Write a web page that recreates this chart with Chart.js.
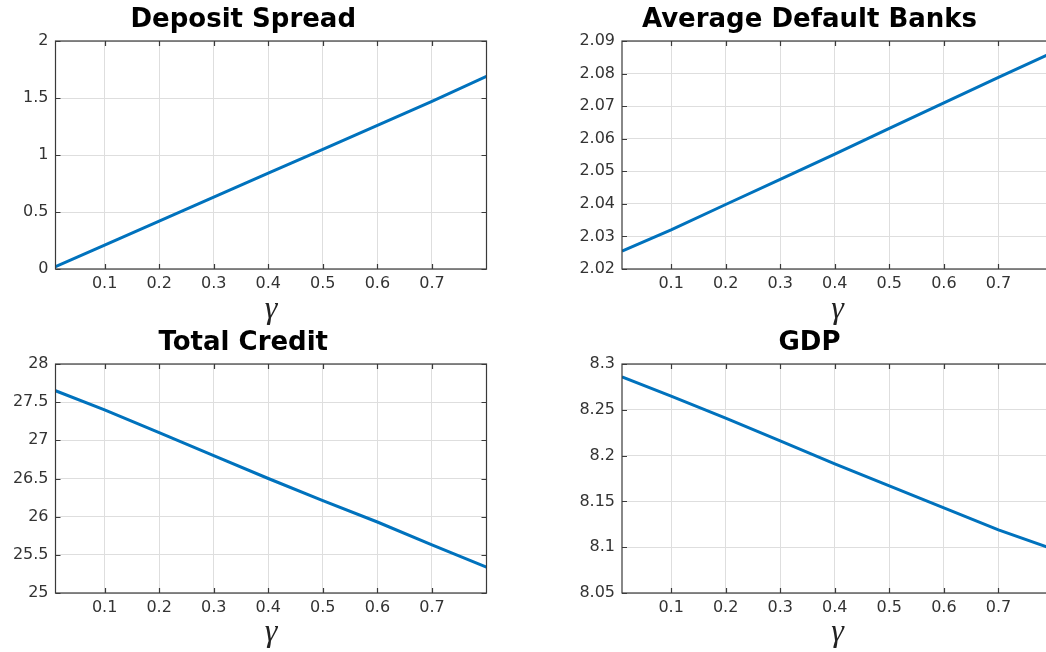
<!DOCTYPE html>
<html lang="en">
<head>
  <meta charset="UTF-8">
  <title>Deposit Spread, Default Banks, Credit and GDP vs gamma</title>
  <script src="https://cdn.jsdelivr.net/npm/chart.js"></script>
  <style>
    html, body {
      margin: 0;
      padding: 0;
      background: #fff;
      width: 1046px;
      height: 652px;
      overflow: hidden;
    }
    canvas {
      position: absolute;
    }
  </style>
</head>
<body>
  <canvas id="spreadChart" width="534" height="326" style="left:0px;top:0px"></canvas>
  <canvas id="banksChart" width="534" height="326" style="left:566px;top:0px"></canvas>
  <canvas id="creditChart" width="534" height="326" style="left:0px;top:323px"></canvas>
  <canvas id="gdpChart" width="534" height="326" style="left:566px;top:323px"></canvas>

  <script>
    // gamma grid (x axis)
    const gamma = [0.01, 0.1, 0.2, 0.3, 0.4, 0.5, 0.6, 0.7, 0.8];
    const xTicks = [0.1, 0.2, 0.3, 0.4, 0.5, 0.6, 0.7];

    // series
    const depositSpread = [0.02, 0.21, 0.42, 0.63, 0.84, 1.05, 1.26, 1.47, 1.69];
    const defaultBanks = [2.0255, 2.032, 2.0398, 2.0475, 2.0553, 2.0632, 2.071, 2.0788, 2.0865];
    const totalCredit = [27.65, 27.40, 27.10, 26.80, 26.50, 26.21, 25.93, 25.63, 25.34];
    const gdp = [8.286, 8.265, 8.241, 8.216, 8.191, 8.167, 8.143, 8.119, 8.098];

    // y tick values
    const spreadTicks = [0, 0.5, 1, 1.5, 2];
    const banksTicks = [2.02, 2.03, 2.04, 2.05, 2.06, 2.07, 2.08, 2.09];
    const creditTicks = [25, 25.5, 26, 26.5, 27, 27.5, 28];
    const gdpTicks = [8.05, 8.1, 8.15, 8.2, 8.25, 8.3];

    const fmt = v => String(Number(v.toFixed(3)));

    // matlab style box with inward tick marks
    const boxPlugin = {
      id: 'matlabBox',
      afterDatasetsDraw(chart) {
        const { ctx, chartArea: a, scales: { x, y } } = chart;
        ctx.save();
        ctx.strokeStyle = '#3a3a3a';
        ctx.lineWidth = 1.2;
        ctx.beginPath();
        x.ticks.forEach(t => {
          const px = Math.round(x.getPixelForValue(t.value)) + 0.5;
          ctx.moveTo(px, a.bottom); ctx.lineTo(px, a.bottom - 5);
          ctx.moveTo(px, a.top); ctx.lineTo(px, a.top + 5);
        });
        y.ticks.forEach(t => {
          const py = Math.round(y.getPixelForValue(t.value)) + 0.5;
          ctx.moveTo(a.left, py); ctx.lineTo(a.left + 5, py);
          ctx.moveTo(a.right, py); ctx.lineTo(a.right - 5, py);
        });
        ctx.stroke();
        ctx.strokeRect(a.left, a.top, a.right - a.left, a.bottom - a.top);
        ctx.restore();
      }
    };

    function makePanel(id, title, values, yTicks, yAxisWidth, areaHeight) {
      new Chart(document.getElementById(id), {
        type: 'line',
        data: {
          datasets: [{
            data: gamma.map((g, i) => ({ x: g, y: values[i] })),
            borderColor: '#0072BD',
            borderWidth: 3,
            pointRadius: 0,
            tension: 0,
            fill: false
          }]
        },
        options: {
          responsive: false,
          animation: false,
          events: [],
          layout: { padding: { left: 0, right: 534 - yAxisWidth - 431, top: 0, bottom: 0 } },
          plugins: {
            legend: { display: false },
            tooltip: { enabled: false },
            title: {
              display: true,
              text: title,
              color: '#000',
              font: { family: 'DejaVu Sans', size: 26, weight: 'bold', lineHeight: 1.2 },
              padding: { top: 5, bottom: 4.8 }
            }
          },
          scales: {
            x: {
              type: 'linear',
              min: 0.01,
              max: 0.8,
              afterBuildTicks: s => { s.ticks = xTicks.map(v => ({ value: v })); },
              afterFit: s => { s.height = 326 - 41 - areaHeight; },
              grid: { color: '#dedede', drawTicks: false },
              border: { display: false },
              ticks: {
                padding: 5,
                color: '#333',
                font: { family: 'DejaVu Sans', size: 16 },
                maxRotation: 0,
                callback: v => fmt(v)
              },
              title: {
                display: true,
                text: 'γ',
                color: '#222',
                font: { family: 'Liberation Serif', size: 32, style: 'italic', lineHeight: 1 },
                padding: { top: 0, bottom: 0 }
              }
            },
            y: {
              min: yTicks[0],
              max: yTicks[yTicks.length - 1],
              afterBuildTicks: s => { s.ticks = yTicks.map(v => ({ value: v })); },
              afterFit: s => { s.width = yAxisWidth; },
              grid: { color: '#dedede', drawTicks: false },
              border: { display: false },
              ticks: {
                padding: 7,
                color: '#333',
                font: { family: 'DejaVu Sans', size: 16 },
                callback: v => fmt(v)
              }
            }
          }
        },
        plugins: [boxPlugin]
      });
    }

    makePanel('spreadChart', 'Deposit Spread', depositSpread, spreadTicks, 55.5, 228);
    makePanel('banksChart', 'Average Default Banks', defaultBanks, banksTicks, 56, 228);
    makePanel('creditChart', 'Total Credit', totalCredit, creditTicks, 55.5, 229);
    makePanel('gdpChart', 'GDP', gdp, gdpTicks, 56, 229);
  </script>
</body>
</html>
